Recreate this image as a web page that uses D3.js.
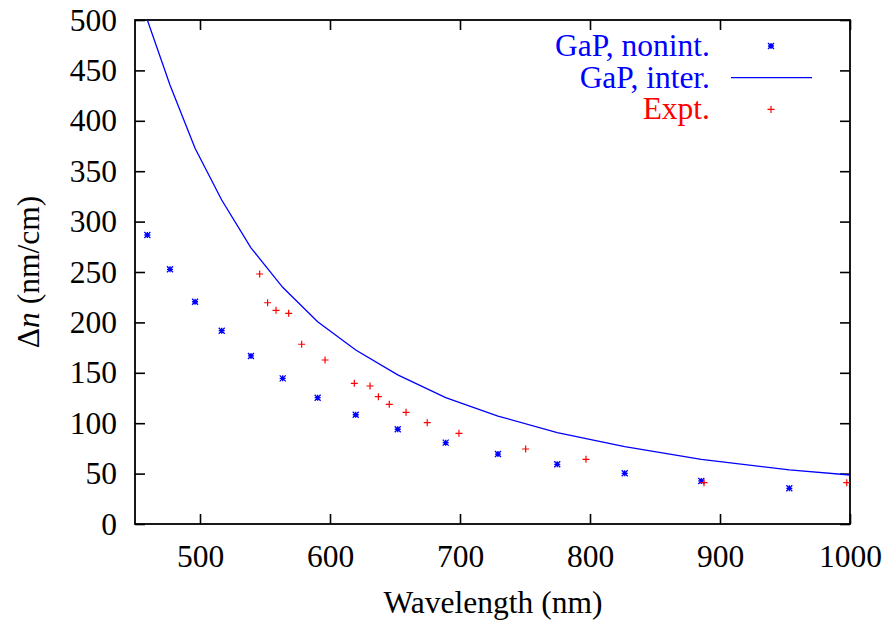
<!DOCTYPE html>
<html>
<head>
<meta charset="utf-8">
<script src="https://cdn.jsdelivr.net/npm/d3@7"></script>
<style>
  html, body { margin: 0; padding: 0; background: #fff; }
  svg { display: block; }
  svg text { font-family: "Liberation Serif", "Times New Roman", Times, "DejaVu Serif", serif; }
</style>
</head>
<body>
<svg id="chart" width="884" height="621"></svg>
<script>
// Wavelength grid (nm) of the calculated GaP results
const calcWavelength = [459.5, 476.9, 496.2, 516.7, 539.2, 563.6, 590.5, 619.8, 652.1, 689.0, 729.2, 774.8, 826.7, 885.6, 953.3];
// Non-interacting result, Δn (nm/cm)
const nonintValues = [286.7, 252.7, 220.5, 191.8, 166.7, 144.5, 125.3, 108.4, 94.0, 80.7, 69.4, 59.2, 50.3, 42.7, 35.4];
// Interacting result (line), sampled at the same wavelengths plus the end point
const interWavelength = [459.5, 476.9, 496.2, 516.7, 539.2, 563.6, 590.5, 619.8, 652.1, 689.0, 729.2, 774.8, 826.7, 885.6, 953.3, 1000];
const interValues = [500, 435.5, 372.7, 321.4, 274.0, 234.8, 200.7, 172.6, 148.0, 125.3, 107.1, 90.6, 76.7, 64.2, 53.6, 48.6];
// Experimental data
const exptWavelength = [545.9, 552.0, 558.5, 568.2, 578.2, 596.2, 618.7, 630.8, 637.2, 645.6, 658.5, 674.8, 699.2, 750.5, 796.9, 887.7, 997.5];
const exptValues = [248.0, 219.5, 212.0, 209.0, 178.3, 162.7, 139.6, 136.9, 126.3, 118.7, 110.8, 100.5, 90.0, 74.4, 64.2, 41.0, 41.0];

const xTicks = [500, 600, 700, 800, 900, 1000];
const yTicks = [0, 50, 100, 150, 200, 250, 300, 350, 400, 450, 500];

const svg = d3.select("#chart");
const plotLeft = 135, plotRight = 850, plotTop = 20, plotBottom = 524;
const x = d3.scaleLinear().domain([450, 1000]).range([plotLeft, plotRight]);
const y = d3.scaleLinear().domain([0, 500]).range([plotBottom, plotTop]);
const fontSize = 31.5;
const tickLen = 10;
const fmt = d3.format("d");

// clip for the data
svg.append("defs").append("clipPath").attr("id", "plotclip")
  .append("rect").attr("x", plotLeft).attr("y", plotTop)
  .attr("width", plotRight - plotLeft).attr("height", plotBottom - plotTop);

// Axes with inward ticks, mirrored on the opposite side
const axisColor = "#000";
function styleAxis(g) {
  g.select(".domain").remove();
  g.attr("font-family", null).attr("font-size", null);
  g.selectAll(".tick line").attr("stroke", axisColor).attr("stroke-width", 1.6);
  g.selectAll(".tick text").attr("font-size", fontSize).attr("fill", "#000");
}
svg.append("g").attr("transform", `translate(0,${plotBottom})`)
  .call(d3.axisBottom(x).tickValues(xTicks).tickFormat(fmt).tickSizeInner(-tickLen).tickSizeOuter(0).tickPadding(21))
  .call(styleAxis);
svg.append("g").attr("transform", `translate(0,${plotTop})`)
  .call(d3.axisTop(x).tickValues(xTicks).tickSizeInner(-tickLen).tickSizeOuter(0).tickFormat(""))
  .call(styleAxis);
svg.append("g").attr("transform", `translate(${plotLeft},0)`)
  .call(d3.axisLeft(y).tickValues(yTicks).tickFormat(fmt).tickSizeInner(-tickLen).tickSizeOuter(0).tickPadding(18))
  .call(styleAxis);
svg.append("g").attr("transform", `translate(${plotRight},0)`)
  .call(d3.axisRight(y).tickValues(yTicks).tickSizeInner(-tickLen).tickSizeOuter(0).tickFormat(""))
  .call(styleAxis);

// frame
svg.append("rect").attr("x", plotLeft).attr("y", plotTop)
  .attr("width", plotRight - plotLeft).attr("height", plotBottom - plotTop)
  .attr("fill", "none").attr("stroke", axisColor).attr("stroke-width", 1.8);

// Axis titles
svg.append("text").attr("x", 493).attr("y", 613).attr("text-anchor", "middle")
  .attr("font-size", fontSize).text("Wavelength (nm)");
const yl = svg.append("text").attr("transform", `translate(39,${(plotTop + plotBottom) / 2}) rotate(-90)`)
  .attr("text-anchor", "middle").attr("font-size", fontSize);
yl.append("tspan").text("Δ");
yl.append("tspan").attr("font-style", "italic").text("n");
yl.append("tspan").text(" (nm/cm)");

const plot = svg.append("g").attr("clip-path", "url(#plotclip)");

// Interacting curve
const line = d3.line().x(d => x(d[0])).y(d => y(d[1]));
plot.append("path").datum(d3.zip(interWavelength, interValues))
  .attr("d", line).attr("fill", "none").attr("stroke", "#0000ff").attr("stroke-width", 1.3);

// Marker shapes
function asterisk(g, cx, cy, s, color) {
  g.append("path")
    .attr("d", `M${cx - s},${cy}H${cx + s}M${cx},${cy - s}V${cy + s}M${cx - s},${cy - s}L${cx + s},${cy + s}M${cx - s},${cy + s}L${cx + s},${cy - s}`)
    .attr("stroke", color).attr("stroke-width", 1.3).attr("fill", "none");
}
function plus(g, cx, cy, s, color) {
  g.append("path")
    .attr("d", `M${cx - s},${cy}H${cx + s}M${cx},${cy - s}V${cy + s}`)
    .attr("stroke", color).attr("stroke-width", 1.2).attr("fill", "none");
}

d3.zip(calcWavelength, nonintValues).forEach(d => asterisk(plot, x(d[0]), y(d[1]), 3, "#0000ff"));
d3.zip(exptWavelength, exptValues).forEach(d => plus(plot, x(d[0]), y(d[1]), 3.5, "#ff0000"));

// Legend
const legend = svg.append("g");
const legendItems = [
  { label: "GaP, nonint.", color: "#0000ff", kind: "asterisk" },
  { label: "GaP, inter.", color: "#0000ff", kind: "line" },
  { label: "Expt.", color: "#ff0000", kind: "plus" }
];
legendItems.forEach((it, i) => {
  const cy = 46 + i * 31.7;
  legend.append("text").attr("x", 710).attr("y", cy + 10).attr("text-anchor", "end")
    .attr("font-size", fontSize).attr("fill", it.color).text(it.label);
  if (it.kind === "asterisk") asterisk(legend, 771, cy, 3, it.color);
  else if (it.kind === "plus") plus(legend, 771, cy, 3.5, it.color);
  else legend.append("line").attr("x1", 731).attr("x2", 812).attr("y1", cy).attr("y2", cy)
    .attr("stroke", it.color).attr("stroke-width", 1.3);
});
</script>
</body>
</html>
